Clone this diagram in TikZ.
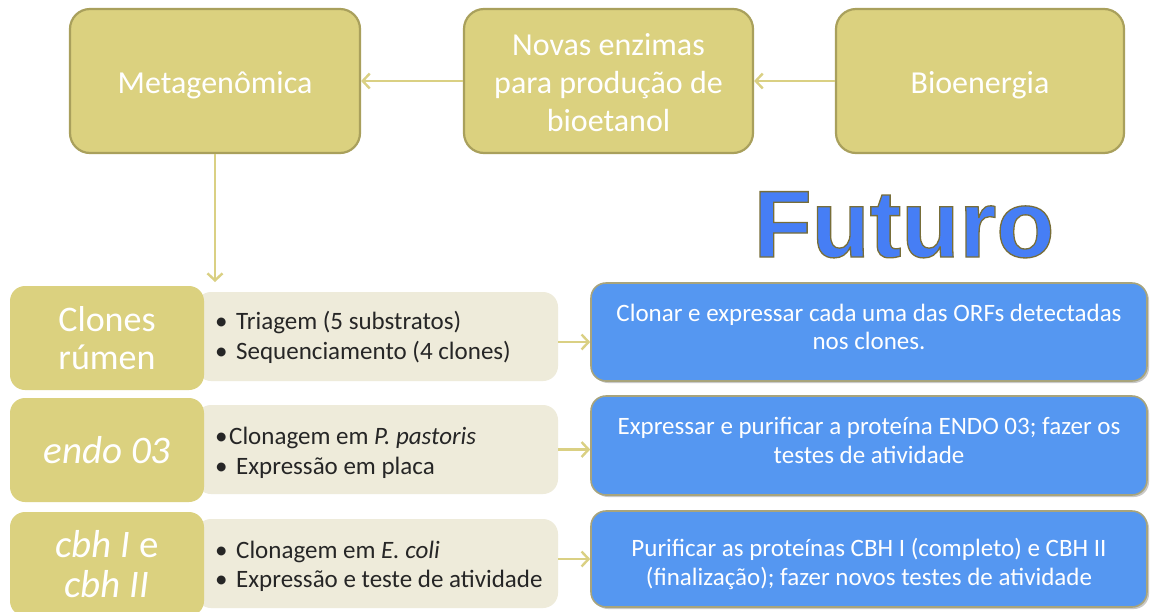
\documentclass[tikz,border=0pt]{standalone}
\usepackage{fontspec}
\setmainfont{Carlito}
\newfontfamily\arialb{Liberation Sans}
\usetikzlibrary{arrows.meta,shadows}
\definecolor{khaki}{HTML}{DBD17F}
\definecolor{khakiedge}{HTML}{A9A05C}
\definecolor{panel}{HTML}{EEEBDA}
\definecolor{arrowc}{HTML}{DAD083}
\definecolor{bluebox}{HTML}{5597F1}
\definecolor{blueedge}{HTML}{A8A47C}
\definecolor{futblue}{HTML}{467EF5}
\begin{document}
\begin{tikzpicture}[x=1pt,y=-1pt,
  topbox/.style={draw=khakiedge,line width=2.2pt,fill=khaki,rounded corners=20pt,
     minimum width=#1,minimum height=144pt,inner sep=0pt,text=white,align=center,
     font=\fontsize{32}{38}\selectfont},
  sidebox/.style={fill=khaki,rounded corners=15pt,minimum width=194pt,inner sep=0pt,
     text=white,align=center,font=\fontsize{36}{38}\selectfont},
  panelbox/.style={fill=panel,rounded corners=15pt,minimum width=362pt,inner sep=0pt},
  listtext/.style={anchor=west,align=left,inner sep=0pt,text=black!85,
     font=\fontsize{25}{29.5}\selectfont},
  bluebx/.style={draw=blueedge,line width=1.6pt,fill=bluebox,rounded corners=15pt,
     minimum width=556pt,inner sep=0pt,text=white,align=center,
     font=\fontsize{25}{28.5}\selectfont,
     drop shadow={shadow xshift=2pt,shadow yshift=-2pt,opacity=0.35,fill=black!60}},
  conn/.style={draw=arrowc,line width=2.6pt,-{Straight Barb[length=7pt,width=15pt,line width=2.4pt]}}
]
\useasboundingbox (0,0) rectangle (1160,611);
\fill[white] (0,0) rectangle (1160,611);

% top row
\node[topbox=290pt] (meta) at (215,81) {Metagenômica\\[-40pt]};
\node[topbox=289pt] (novas) at (608.5,81) {Novas enzimas\\para produção de\\bioetanol\\[-41pt]};
\node[topbox=288pt] (bio) at (980,81) {Bioenergia\\[-40pt]};
\draw[conn] (novas.west) -- (meta.east);
\draw[conn] (bio.west) -- (novas.east);
\coordinate (rowtop) at (215,282);
\draw[conn] (meta.south) -- (rowtop);

% Futuro
\node[inner sep=0pt,anchor=base,text=futblue,font=\arialb\bfseries\fontsize{95}{95}\selectfont]
  (futuro) at (904,257)
  {\special{pdf:literal direct 2 Tr 1.3 w 0.47 0.43 0.22 RG}Futuro\special{pdf:literal direct 0 Tr}};

% panels
\node[panelbox,minimum height=89pt] (p1) at (377,336.5) {};
\node[panelbox,minimum height=89pt] (p2) at (377,449.5) {};
\node[panelbox,minimum height=89pt] (p3) at (377,563.5) {};

% side boxes
\node[sidebox,minimum height=104pt] (s1) at (107,338) {Clones\\rúmen};
\node[sidebox,minimum height=104pt,font=\fontsize{39}{40}\selectfont] (s2) at (107,450) {\itshape endo 03};
\node[sidebox,minimum height=104pt,font=\fontsize{39}{40}\selectfont] (s3) at (107,564) {\itshape cbh I \upshape e\\\itshape cbh II};

% list text
\node[listtext] (l1) at (215,337.5) {\makebox[21pt][l]{•}Triagem (5 substratos)\\\makebox[21pt][l]{•}Sequenciamento (4 clones)};
\node[listtext] (l2) at (215,453) {\makebox[14pt][l]{•}Clonagem em \textit{P. pastoris}\\\makebox[21pt][l]{•}Expressão em placa};
\node[listtext] (l3) at (215,566.5) {\makebox[21pt][l]{•}Clonagem em \textit{E. coli}\\\makebox[21pt][l]{•}Expressão e teste de atividade};

% blue boxes
\node[bluebx,minimum height=98pt] (b1) at (869,332) {Clonar e expressar cada uma das ORFs detectadas\\nos clones.\\[-18pt]};
\node[bluebx,minimum height=99pt] (b2) at (869,445.5) {Expressar e purificar a proteína ENDO 03; fazer os\\testes de atividade\\[-18pt]};
\node[bluebx,minimum height=96pt] (b3) at (869,559) {Purificar as proteínas CBH I (completo) e CBH II\\(finalização); fazer novos testes de atividade\\[-34pt]};

\draw[conn] (p1.east |- b1.west) ++(0,10) coordinate (a1) -- (a1 -| b1.west);
\draw[conn] (p2.east) -- (p2.east -| b2.west);
\draw[conn] (p3.east |- b3.west) -- (b3.west);
\end{tikzpicture}
\end{document}
